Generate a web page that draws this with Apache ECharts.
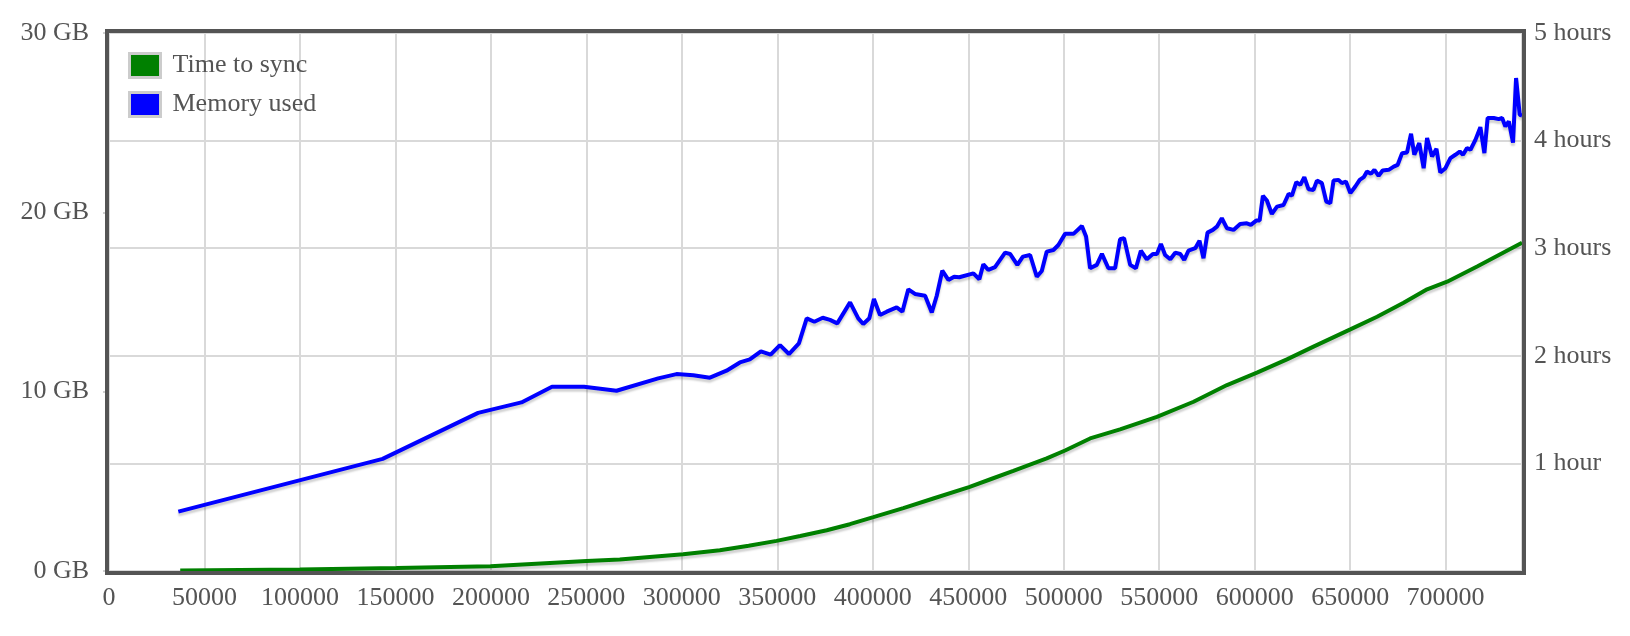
<!DOCTYPE html>
<html>
<head>
<meta charset="utf-8">
<script src="https://cdn.jsdelivr.net/npm/echarts@6.0.0/dist/echarts.min.js"></script>
<style>
  html, body { margin: 0; padding: 0; background: #fff; }
  #chart { width: 1630px; height: 636px; }
</style>
</head>
<body>
<div id="chart"></div>
<script>
// block height -> hours needed to sync
const syncBlocks = [37300, 100000, 150500, 199800, 250100, 267500, 283200, 300700, 319900, 335000,
  349600, 362000, 375900, 388000, 400300, 416000, 431700, 450400, 462000, 473600,
  491100, 500700, 513800, 529500, 548800, 568000, 585500, 601200, 616900, 630800,
  650100, 664100, 678000, 690300, 700800, 716500, 740000];
const syncHours = [0.005, 0.015, 0.028, 0.044, 0.093, 0.106, 0.13, 0.155, 0.193, 0.235,
  0.28, 0.325, 0.379, 0.435, 0.5, 0.585, 0.674, 0.78, 0.855, 0.93,
  1.046, 1.12, 1.232, 1.316, 1.433, 1.573, 1.728, 1.843, 1.967, 2.085,
  2.246, 2.363, 2.493, 2.618, 2.689, 2.83, 3.05];

// block height -> memory used (GB)
const memoryBlocks = [36300, 143300, 193300, 216000, 232000, 248800, 265800, 287600, 297200, 306000,
  314700, 323400, 330400, 335600, 341400, 346500, 351400, 356100, 361300, 365400,
  369400, 373800, 377600, 381400, 388100, 392400, 395000, 398200, 400600, 403800,
  407300, 412500, 415500, 418600, 422100, 427400, 430900, 433500, 436400, 439600,
  442600, 445300, 452700, 455800, 457900, 460500, 464000, 469300, 471900, 475700,
  478600, 482400, 485900, 488500, 491100, 494600, 497200, 500700, 505100, 509500,
  511700, 513800, 517300, 520000, 523400, 526900, 529500, 531600, 534800, 537800,
  540400, 543500, 546700, 548800, 550900, 553100, 555800, 558400, 561000, 563100,
  565300, 568900, 571100, 573200, 575300, 578100, 580200, 582800, 585500, 588900,
  592400, 595900, 598000, 600800, 602600, 604300, 606400, 609000, 611700, 615100,
  617800, 619500, 621800, 623900, 626000, 628200, 630800, 632600, 635200, 637500,
  639600, 641300, 643900, 645700, 647800, 650100, 652700, 655000, 657100, 658800,
  660900, 662700, 664900, 667000, 670200, 672800, 674900, 677200, 679800, 681900,
  683600, 686200, 688500, 690300, 692900, 695200, 697200, 699900, 702500, 705100,
  707400, 709100, 711200, 713000, 715600, 718200, 720300, 722000, 725200, 727800,
  729600, 731300, 733100, 735300, 736900, 738800, 740000];
const memoryGB = [3.31, 6.25, 8.82, 9.40, 10.27, 10.27, 10.05, 10.74, 10.98, 10.92,
  10.78, 11.17, 11.63, 11.80, 12.25, 12.06, 12.60, 12.10, 12.69, 14.09,
  13.90, 14.12, 14.00, 13.81, 14.98, 14.09, 13.77, 14.09, 15.17, 14.27,
  14.46, 14.70, 14.46, 15.71, 15.45, 15.35, 14.42, 15.35, 16.75, 16.23,
  16.41, 16.38, 16.60, 16.27, 17.10, 16.79, 16.94, 17.75, 17.68, 17.07,
  17.53, 17.62, 16.41, 16.73, 17.81, 17.90, 18.18, 18.80, 18.80, 19.24,
  18.65, 16.88, 17.07, 17.68, 16.88, 16.88, 18.50, 18.56, 17.07, 16.88,
  17.86, 17.38, 17.68, 17.68, 18.24, 17.62, 17.38, 17.75, 17.68, 17.35,
  17.86, 18.00, 18.42, 17.44, 18.87, 19.02, 19.20, 19.67, 19.11, 19.02,
  19.35, 19.39, 19.30, 19.54, 19.54, 20.93, 20.66, 19.91, 20.32, 20.41,
  21.03, 20.93, 21.68, 21.53, 21.96, 21.29, 21.25, 21.77, 21.63, 20.60,
  20.51, 21.77, 21.81, 21.63, 21.72, 21.07, 21.44, 21.81, 21.96, 22.27,
  22.15, 22.37, 22.03, 22.33, 22.37, 22.55, 22.65, 23.30, 23.34, 24.38,
  23.21, 23.86, 22.46, 24.14, 23.11, 23.54, 22.22, 22.46, 23.02, 23.21,
  23.39, 23.21, 23.58, 23.49, 24.04, 24.75, 23.30, 25.26, 25.26, 25.20,
  25.26, 24.79, 25.07, 23.89, 27.49, 25.44, 25.40];

const seriesNames = ['Time to sync', 'Memory used'];
const seriesColors = ['#008000', '#0000ff'];

const font = "'Liberation Serif', 'Times New Roman', serif";
const textColor = '#545454';
const gridColor = '#d9d9d9';

const zip = (xs, ys) => xs.map((x, i) => [x, ys[i]]);

const lineStyle = color => ({
  color: color,
  width: 4,
  shadowColor: 'rgba(0,0,0,0.18)',
  shadowBlur: 2,
  shadowOffsetY: 3
});

const chart = echarts.init(document.getElementById('chart'));
chart.setOption({
  animation: false,
  grid: { left: 109, top: 33, right: 108, bottom: 65, show: false },
  legend: {
    orient: 'vertical',
    left: 128,
    top: 52,
    padding: 0,
    icon: 'rect',
    itemWidth: 31,
    itemHeight: 24,
    itemGap: 12,
    itemStyle: { borderColor: '#cccccc', borderWidth: 3 },
    textStyle: { fontFamily: font, fontSize: 26, color: textColor, padding: [0, 0, 0, 7] },
    data: seriesNames
  },
  xAxis: {
    type: 'value',
    min: 0,
    max: 740000,
    interval: 50000,
    axisLine: { show: false },
    axisTick: { show: false },
    splitLine: { show: true, lineStyle: { color: gridColor, width: 2 } },
    axisLabel: {
      color: textColor, fontFamily: font, fontSize: 26, margin: 14, showMaxLabel: false,
      formatter: v => String(v)
    }
  },
  yAxis: [
    {
      type: 'value',
      position: 'left',
      min: 0,
      max: 30,
      interval: 10,
      axisLine: { show: false },
      axisTick: { show: true, length: 6, lineStyle: { color: '#d0d0d0', width: 2 } },
      splitLine: { show: false },
      axisLabel: { color: textColor, fontFamily: font, fontSize: 26, margin: 20, formatter: '{value} GB' }
    },
    {
      type: 'value',
      position: 'right',
      min: 0,
      max: 5,
      interval: 1,
      axisLine: { show: false },
      axisTick: { show: false },
      splitLine: { show: true, lineStyle: { color: gridColor, width: 2 } },
      axisLabel: {
        color: textColor, fontFamily: font, fontSize: 26, margin: 12,
        formatter: v => v === 0 ? '' : (v === 1 ? '1 hour' : v + ' hours')
      }
    }
  ],
  graphic: [{
    type: 'rect',
    silent: true,
    z: 100,
    shape: { x: 107, y: 31, width: 1417, height: 542 },
    style: { fill: 'none', stroke: '#545454', lineWidth: 4 }
  }],
  series: [
    {
      name: seriesNames[0],
      type: 'line',
      yAxisIndex: 1,
      showSymbol: false,
      data: zip(syncBlocks, syncHours),
      itemStyle: { color: seriesColors[0] },
      lineStyle: lineStyle(seriesColors[0])
    },
    {
      name: seriesNames[1],
      type: 'line',
      yAxisIndex: 0,
      showSymbol: false,
      data: zip(memoryBlocks, memoryGB),
      itemStyle: { color: seriesColors[1] },
      lineStyle: lineStyle(seriesColors[1])
    }
  ]
});
</script>
</body>
</html>
